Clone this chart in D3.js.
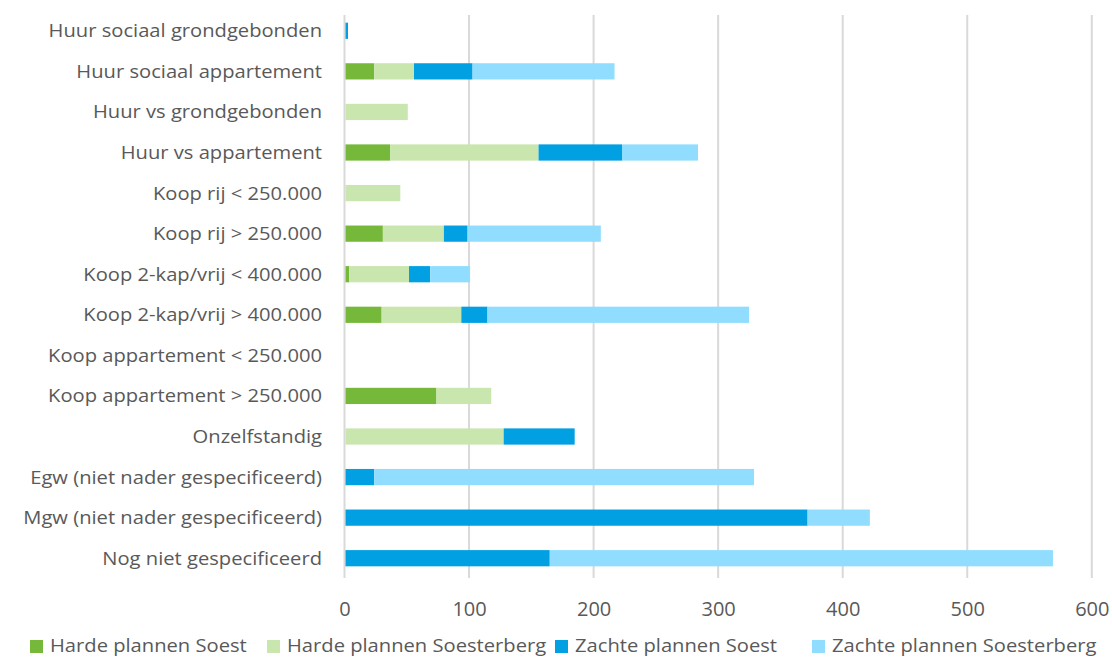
<!DOCTYPE html>
<html>
<head>
<meta charset="utf-8">
<script src="https://cdn.jsdelivr.net/npm/d3@7/dist/d3.min.js"></script>
<style>
  html, body { margin: 0; padding: 0; background: #fff; }
  svg { display: block; }
  text { font-family: "Open Sans", "Noto Sans", sans-serif; fill: #595959; }
</style>
</head>
<body>
<svg id="chart" width="1112" height="657"></svg>
<script>
// Woningbouwplannen per segment (aantal woningen)
const categories = [
  "Huur sociaal grondgebonden",
  "Huur sociaal appartement",
  "Huur vs grondgebonden",
  "Huur vs appartement",
  "Koop rij < 250.000",
  "Koop rij > 250.000",
  "Koop 2-kap/vrij < 400.000",
  "Koop 2-kap/vrij > 400.000",
  "Koop appartement < 250.000",
  "Koop appartement > 250.000",
  "Onzelfstandig",
  "Egw (niet nader gespecificeerd)",
  "Mgw (niet nader gespecificeerd)",
  "Nog niet gespecificeerd"
];

const seriesNames = [
  "Harde plannen Soest",
  "Harde plannen Soesterberg",
  "Zachte plannen Soest",
  "Zachte plannen Soesterberg"
];

const hardeSoest        = [0, 23, 0, 36, 0, 30, 3, 29, 0, 73, 0, 0, 0, 0];
const hardeSoesterberg  = [0, 32, 50, 119, 44, 49, 48, 64, 0, 44, 127, 0, 0, 0];
const zachteSoest       = [2, 47, 0, 67, 0, 19, 17, 21, 0, 0, 57, 23, 371, 164];
const zachteSoesterberg = [0, 114, 0, 61, 0, 107, 32, 210, 0, 0, 0, 305, 50, 404];

const xTicks = [0, 100, 200, 300, 400, 500, 600];
const colors = ["#76b83a", "#c8e6ad", "#00a0e2", "#90ddff"];

const seriesValues = [hardeSoest, hardeSoesterberg, zachteSoest, zachteSoesterberg];
const rows = categories.map((c, i) => {
  const r = { category: c };
  seriesNames.forEach((s, k) => { r[s] = seriesValues[k][i]; });
  return r;
});

const stacked = d3.stack().keys(seriesNames)(rows);

const svg = d3.select("#chart");
const labelStretch = 1.12;

const x = d3.scaleLinear().domain([0, 600]).range([344.5, 1091.8]);
const y = d3.scaleBand().domain(categories).range([10.5, 578.5])
  .paddingInner(0.6).paddingOuter(0.3);

// vertical gridlines
svg.append("g")
  .selectAll("line")
  .data(xTicks)
  .join("line")
  .attr("x1", d => x(d)).attr("x2", d => x(d))
  .attr("y1", 15).attr("y2", 578)
  .attr("stroke", "#d9d9d9")
  .attr("stroke-width", 2);

// stacked bars
svg.append("g")
  .selectAll("g")
  .data(stacked)
  .join("g")
  .attr("fill", (d, i) => colors[i])
  .selectAll("rect")
  .data(d => d.map(v => ({ v, cat: v.data.category })))
  .join("rect")
  .attr("x", d => x(d.v[0]) + 1)
  .attr("width", d => Math.max(0, x(d.v[1]) - x(d.v[0])))
  .attr("y", d => y(d.cat))
  .attr("height", y.bandwidth());

// category labels
const yAxis = d3.axisLeft(y).tickSize(0).tickPadding(0);
const gy = svg.append("g")
  .attr("transform", "translate(322,0)")
  .call(yAxis);
gy.select(".domain").remove();
gy.selectAll("text")
  .attr("x", 0)
  .attr("dy", "0.36em")
  .attr("font-size", "18px")
  .attr("transform", `scale(${labelStretch},1)`)
  .style("font-family", "'Open Sans', sans-serif")
  .attr("fill", "#595959");

// value axis labels
const xAxis = d3.axisBottom(x).tickValues(xTicks).tickSize(0).tickPadding(0);
const gx = svg.append("g")
  .attr("transform", "translate(0,616)")
  .call(xAxis);
gx.select(".domain").remove();
gx.selectAll("text")
  .attr("y", 0)
  .attr("dy", 0)
  .attr("font-size", "20px")
  .style("font-family", "'Open Sans', sans-serif")
  .attr("fill", "#595959");

// legend
const legendX = [30, 267, 555, 812];
const legend = svg.append("g")
  .selectAll("g")
  .data(seriesNames)
  .join("g")
  .attr("transform", (d, i) => `translate(${legendX[i]},0)`);
legend.append("rect")
  .attr("x", 0).attr("y", 640)
  .attr("width", 13).attr("height", 13)
  .attr("fill", (d, i) => colors[i]);
legend.append("text")
  .attr("transform", `translate(20,652) scale(${labelStretch},1)`)
  .attr("font-size", "18px")
  .text(d => d);
</script>
</body>
</html>
